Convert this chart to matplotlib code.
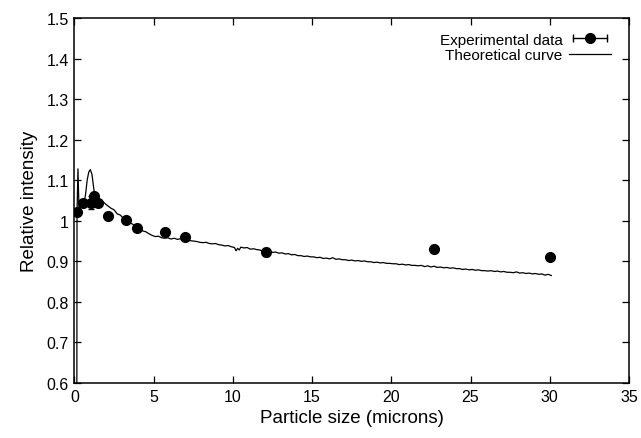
import matplotlib
matplotlib.use("Agg")
import matplotlib.pyplot as plt
from matplotlib.ticker import FuncFormatter
from matplotlib.lines import Line2D
from matplotlib.legend_handler import HandlerLine2D

plt.rcParams['font.family'] = ['Liberation Sans', 'DejaVu Sans']

# Experimental data
exp_x = [0.14, 0.56, 1.04, 1.23, 1.5, 2.09, 3.23, 3.96, 5.73, 6.97, 12.12, 22.7, 30.0]
exp_y = [1.022, 1.044, 1.045, 1.062, 1.045, 1.011, 1.002, 0.981, 0.972, 0.961, 0.922, 0.930, 0.911]
exp_err = [0.004, 0.004, 0.016, 0.004, 0.004, 0.003, 0.003, 0.003, 0.008, 0.003, 0.008, 0.003, 0.003]

# Theoretical curve
th_x = [0.15, 0.16, 0.18, 0.22, 0.25, 0.28, 0.32, 0.4, 0.5, 0.6, 0.7, 0.8, 0.9, 1.0, 1.1, 1.2, 1.3,
        1.4, 1.6, 1.8, 2.0, 2.3, 2.5, 2.7, 2.9, 3.1, 3.3, 3.5, 3.7, 3.9, 4.1, 4.3, 4.5, 4.7, 4.9,
        5.1, 5.3, 5.5, 5.7, 5.9, 6.1, 6.3, 6.5, 6.7, 6.9, 7.1, 7.3, 7.5, 7.7, 7.9, 8.1, 8.3, 8.5,
        8.7, 8.9, 9.1, 9.3, 9.5, 9.7, 9.9, 10.1, 10.2, 10.3, 10.4, 10.5, 10.7, 10.9, 11.1, 11.3,
        11.5, 11.7, 11.9, 12.1, 12.3, 12.5, 12.7, 12.9, 13.1, 13.3, 13.5, 13.7, 13.9, 14.1, 14.3,
        14.5, 14.7, 14.9, 15.1, 15.3, 15.5, 15.7, 15.9, 16.1, 16.3, 16.5, 16.7, 16.9, 17.1, 17.3,
        17.5, 17.7, 17.9, 18.1, 18.3, 18.5, 18.7, 18.9, 19.1, 19.3, 19.5, 19.7, 19.9, 20.1, 20.3,
        20.5, 20.7, 20.9, 21.1, 21.3, 21.5, 21.7, 21.9, 22.1, 22.3, 22.5, 22.7, 22.9, 23.1, 23.3,
        23.5, 23.7, 23.9, 24.1, 24.3, 24.5, 24.7, 24.9, 25.1, 25.3, 25.5, 25.7, 25.9, 26.1, 26.3,
        26.5, 26.7, 26.9, 27.1, 27.3, 27.5, 27.7, 27.9, 28.1, 28.3, 28.5, 28.7, 28.9, 29.1, 29.3,
        29.5, 29.7, 29.9, 30.1]
th_y = [0.600, 1.020, 1.060, 1.128, 1.080, 1.035, 1.030, 1.038, 1.040, 1.045, 1.065, 1.100, 1.120, 1.126, 1.115, 1.085, 1.055,
        1.046, 1.044, 1.047, 1.040, 1.031, 1.027, 1.017, 1.014, 1.005, 1.003, 0.995, 0.991, 0.984, 0.982, 0.975, 0.973, 0.968, 0.964,
        0.961, 0.962, 0.958, 0.957, 0.958, 0.955, 0.957, 0.954, 0.956, 0.953, 0.955, 0.951, 0.950, 0.949, 0.947, 0.946, 0.947, 0.944,
        0.943, 0.944, 0.941, 0.940, 0.938, 0.939, 0.936, 0.934, 0.926, 0.932, 0.928, 0.935, 0.933, 0.934, 0.930, 0.931,
        0.929, 0.928, 0.925, 0.923, 0.925, 0.922, 0.923, 0.920, 0.921, 0.918, 0.919, 0.916, 0.917, 0.914, 0.914,
        0.912, 0.913, 0.911, 0.911, 0.909, 0.910, 0.907, 0.908, 0.906, 0.909, 0.905, 0.906, 0.904, 0.904, 0.902,
        0.903, 0.901, 0.902, 0.900, 0.901, 0.899, 0.899, 0.897, 0.898, 0.896, 0.897, 0.895, 0.895, 0.894, 0.894,
        0.892, 0.893, 0.891, 0.892, 0.890, 0.890, 0.889, 0.890, 0.887, 0.889, 0.886, 0.888, 0.885, 0.886, 0.884,
        0.885, 0.883, 0.884, 0.882, 0.882, 0.880, 0.881, 0.879, 0.880, 0.878, 0.879, 0.877, 0.877, 0.876, 0.877,
        0.875, 0.876, 0.874, 0.875, 0.873, 0.873, 0.872, 0.874, 0.871, 0.872, 0.870, 0.871, 0.869, 0.870, 0.868,
        0.869, 0.866, 0.868, 0.865]

x_ticks = [0, 5, 10, 15, 20, 25, 30, 35]
y_ticks = [0.6, 0.7, 0.8, 0.9, 1.0, 1.1, 1.2, 1.3, 1.4, 1.5]

fig = plt.figure(figsize=(6.41, 4.39), dpi=100)
ax = fig.add_axes([0.1162, 0.1253, 0.865, 0.8314])

ax.errorbar(exp_x, exp_y, yerr=exp_err, fmt='o', color='black', markersize=7,
            elinewidth=1, capsize=2.5, capthick=1, zorder=3)
theory, = ax.plot(th_x, th_y, color='black', linewidth=0.9, zorder=2)

ax.set_xlim(0, 35)
ax.set_ylim(0.6, 1.5)
ax.set_xticks(x_ticks)
ax.set_yticks(y_ticks)
ax.yaxis.set_major_formatter(FuncFormatter(lambda v, p: '%g' % round(v, 2)))
ax.tick_params(direction='in', top=True, right=True, length=5, width=0.9, labelsize=11.5, pad=4)
for s in ax.spines.values():
    s.set_linewidth(1.1)

ax.set_xlabel('Particle size (microns)', fontsize=13.5, labelpad=4)
ax.set_ylabel('Relative intensity', fontsize=13.5, labelpad=6)

# legend handle: horizontal error bar with dot
cap_line = Line2D([], [], color='black', lw=1, marker='|', markersize=6, markeredgewidth=1)
dot = Line2D([], [], color='black', marker='o', markersize=7, linestyle='none')
leg = ax.legend([(cap_line, dot), theory], ['Experimental data', 'Theoretical curve'],
                handler_map={cap_line: HandlerLine2D(numpoints=2), dot: HandlerLine2D(numpoints=1)},
                loc='upper right', bbox_to_anchor=(0.985, 0.985), frameon=False, markerfirst=False,
                fontsize=11, handlelength=2.8, handletextpad=0.4, labelspacing=0.1, borderaxespad=0.2)
for t in leg.get_texts():
    t.set_ha('right')

fig.savefig('out.png', dpi=100)
